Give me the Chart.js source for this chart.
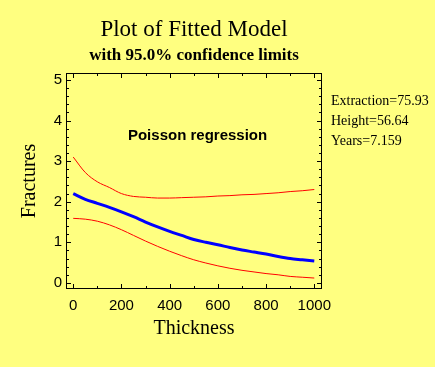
<!DOCTYPE html>
<html>
<head>
<meta charset="utf-8">
<script src="https://cdn.jsdelivr.net/npm/chart.js@4.4.1/dist/chart.umd.min.js"></script>
<style>
  html, body { margin: 0; padding: 0; background: #ffff80; }
</style>
</head>
<body>
<canvas id="chart" width="435" height="367"></canvas>
<script>
// values
const thickness = [0, 50, 100, 150, 200, 250, 300, 350, 400, 450, 500,
                   550, 600, 650, 700, 750, 800, 850, 900, 950, 1000];
const fitted = [2.20, 2.06, 1.96, 1.86, 1.75, 1.63, 1.50, 1.38, 1.27, 1.17, 1.07,
                1.00, 0.94, 0.87, 0.81, 0.76, 0.71, 0.65, 0.60, 0.57, 0.54];
const upperLimit = [3.10, 2.72, 2.49, 2.35, 2.20, 2.13, 2.11, 2.09, 2.09, 2.10, 2.11,
                    2.12, 2.14, 2.15, 2.17, 2.18, 2.20, 2.22, 2.25, 2.27, 2.30];
const lowerLimit = [1.59, 1.57, 1.52, 1.43, 1.31, 1.17, 1.03, 0.90, 0.78, 0.67, 0.57,
                    0.49, 0.42, 0.36, 0.31, 0.27, 0.23, 0.20, 0.16, 0.14, 0.12];
const xTicks = [0, 200, 400, 600, 800, 1000];
const yTicks = [0, 1, 2, 3, 4, 5];
const factorLines = ['Extraction=75.93', 'Height=56.64', 'Years=7.159'];
const modelLabel = 'Poisson regression';

const toPoints = vals => vals.map((v, i) => ({ x: thickness[i], y: v }));

// box around the plot with inward ticks, plus the loose texts
const frameAndNotes = {
  id: 'frameAndNotes',
  afterDraw(chart) {
    const { ctx, chartArea: a, scales: { x, y } } = chart;
    ctx.save();
    ctx.strokeStyle = '#000';
    ctx.lineWidth = 1;
    ctx.strokeRect(a.left + 0.5, a.top + 0.5, a.right - a.left - 1, a.bottom - a.top - 1);
    ctx.beginPath();
    for (let v = 0; v <= 1000; v += 100) {
      const px = Math.round(x.getPixelForValue(v)) + 0.5;
      const len = v % 200 === 0 ? 5 : 3;
      ctx.moveTo(px, a.bottom); ctx.lineTo(px, a.bottom - len);
      ctx.moveTo(px, a.top); ctx.lineTo(px, a.top + len);
    }
    for (let i = 0; i <= 25; i++) {
      const py = Math.round(y.getPixelForValue(i / 5)) + 0.5;
      const len = i % 5 === 0 ? 5 : 3;
      ctx.moveTo(a.left, py); ctx.lineTo(a.left + len, py);
      ctx.moveTo(a.right, py); ctx.lineTo(a.right - len, py);
    }
    ctx.stroke();

    ctx.fillStyle = '#000';
    ctx.textBaseline = 'alphabetic';
    ctx.textAlign = 'left';
    ctx.font = 'bold 15px "Liberation Sans", Arial, sans-serif';
    ctx.fillText(modelLabel, x.getPixelForValue(227), y.getPixelForValue(3.52));

    ctx.font = '14px "Liberation Serif", "Times New Roman", serif';
    factorLines.forEach((t, i) => {
      ctx.fillText(t, a.right + 9, a.top + 32 + i * 20);
    });
    ctx.restore();
  }
};

const serif = '"Liberation Serif", "Times New Roman", serif';
const sans = '"Liberation Sans", Arial, sans-serif';

new Chart(document.getElementById('chart'), {
  type: 'line',
  data: {
    datasets: [
      { label: 'upper', data: toPoints(upperLimit), borderColor: '#ff0000', borderWidth: 1 },
      { label: 'lower', data: toPoints(lowerLimit), borderColor: '#ff0000', borderWidth: 1 },
      { label: 'fitted', data: toPoints(fitted), borderColor: '#0000ff', borderWidth: 3 }
    ]
  },
  options: {
    responsive: false,
    devicePixelRatio: 1,
    animation: false,
    parsing: false,
    elements: {
      point: { radius: 0 },
      line: { cubicInterpolationMode: 'monotone', fill: false }
    },
    layout: { padding: { left: 0, right: 113, top: 0, bottom: 0 } },
    plugins: {
      legend: { display: false },
      tooltip: { enabled: false },
      title: {
        display: true,
        text: 'Plot of Fitted Model',
        fullSize: false,
        color: '#000',
        font: { family: serif, size: 23, weight: 'normal' },
        padding: { top: 16, bottom: 0 }
      },
      subtitle: {
        display: true,
        text: 'with 95.0% confidence limits',
        fullSize: false,
        color: '#000',
        font: { family: serif, size: 17, weight: 'bold' },
        padding: { top: 2, bottom: 7 }
      }
    },
    scales: {
      x: {
        type: 'linear',
        min: -30,
        max: 1032,
        afterBuildTicks: s => { s.ticks = xTicks.map(v => ({ value: v })); },
        afterFit: s => { s.height = 78; },
        grid: { display: false, drawTicks: false },
        border: { display: false },
        ticks: {
          color: '#000',
          font: { family: sans, size: 15 },
          padding: 8,
          maxRotation: 0,
          autoSkip: false,
          callback: v => String(v)
        },
        title: {
          display: true,
          text: 'Thickness',
          color: '#000',
          font: { family: serif, size: 20 },
          padding: { top: 0, bottom: 26 }
        }
      },
      y: {
        type: 'linear',
        min: -0.15,
        max: 5.17,
        afterBuildTicks: s => { s.ticks = yTicks.map(v => ({ value: v })); },
        afterFit: s => { s.width = 66; },
        grid: { display: false, drawTicks: false },
        border: { display: false },
        ticks: {
          color: '#000',
          font: { family: sans, size: 15 },
          padding: 4,
          callback: v => String(v)
        },
        title: {
          display: true,
          text: 'Fractures',
          color: '#000',
          font: { family: serif, size: 20 },
          padding: { top: 17.5, bottom: 0 }
        }
      }
    }
  },
  plugins: [frameAndNotes]
});
</script>
</body>
</html>
